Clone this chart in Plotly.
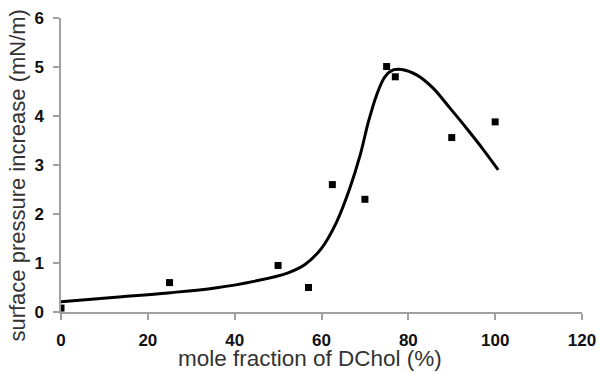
import plotly.graph_objects as go

# measured data points
x_pts = [0, 25, 50, 57, 62.5, 70, 75, 77, 90, 100]
y_pts = [0.08, 0.6, 0.95, 0.5, 2.6, 2.3, 5.01, 4.8, 3.56, 3.88]

# fitted curve
x_fit = [0, 14, 24.7, 35.5, 44.7, 52.3, 56.2, 60, 63.5, 66.5, 68.9, 70.8, 72.7, 74.6, 76.5, 78.5, 81.9, 85.7, 89.6, 93.4, 97.3, 100.7]
y_fit = [0.21, 0.31, 0.39, 0.49, 0.63, 0.80, 0.97, 1.30, 1.84, 2.52, 3.20, 3.88, 4.43, 4.80, 4.94, 4.95, 4.84, 4.57, 4.16, 3.75, 3.31, 2.90]

x_ticks = [0, 20, 40, 60, 80, 100, 120]
y_ticks = [0, 1, 2, 3, 4, 5, 6]

x_title = "mole fraction of DChol (%)"
y_title = "surface pressure increase (mN/m)"

FONT = "Liberation Sans, Arial, sans-serif"

fig = go.Figure()
fig.add_trace(go.Scatter(x=x_fit, y=y_fit, mode="lines",
                         line=dict(color="black", width=3, shape="spline", smoothing=1.0),
                         showlegend=False, hoverinfo="skip"))
fig.add_trace(go.Scatter(x=x_pts, y=y_pts, mode="markers",
                         marker=dict(symbol="square", size=7, color="black"),
                         showlegend=False))

axis_common = dict(showgrid=False, zeroline=False, automargin=False,
                   showline=True, linecolor="#a0a0a0", linewidth=1.5,
                   ticks="outside", ticklen=6, tickcolor="#a0a0a0", tickwidth=1.5,
                   tickfont=dict(size=17, color="#111", family=FONT, weight="bold"))

fig.update_layout(
    width=599, height=372,
    margin=dict(l=61, r=17, t=18, b=60),
    paper_bgcolor="white", plot_bgcolor="white",
    font=dict(family=FONT, color="#222"),
    xaxis=dict(range=[0, 120], tickvals=x_ticks, ticklabelstandoff=6, **axis_common),
    yaxis=dict(range=[0, 6], tickvals=y_ticks, ticklabelstandoff=6, **axis_common),
    annotations=[
        dict(text=x_title, xref="paper", yref="paper", x=0.477, y=-0.158,
             xanchor="center", yanchor="middle", showarrow=False, borderpad=0,
             font=dict(size=22.5, color="#333", family=FONT)),
        dict(text=y_title, xref="paper", yref="paper", x=-0.0825, y=0.464,
             xanchor="center", yanchor="middle", showarrow=False, textangle=-90, borderpad=0,
             font=dict(size=22, color="#333", family=FONT)),
    ],
)
fig.write_html("out.html", config={"displayModeBar": False},
               post_script="document.body.style.margin='0px';document.body.style.padding='0px';")
